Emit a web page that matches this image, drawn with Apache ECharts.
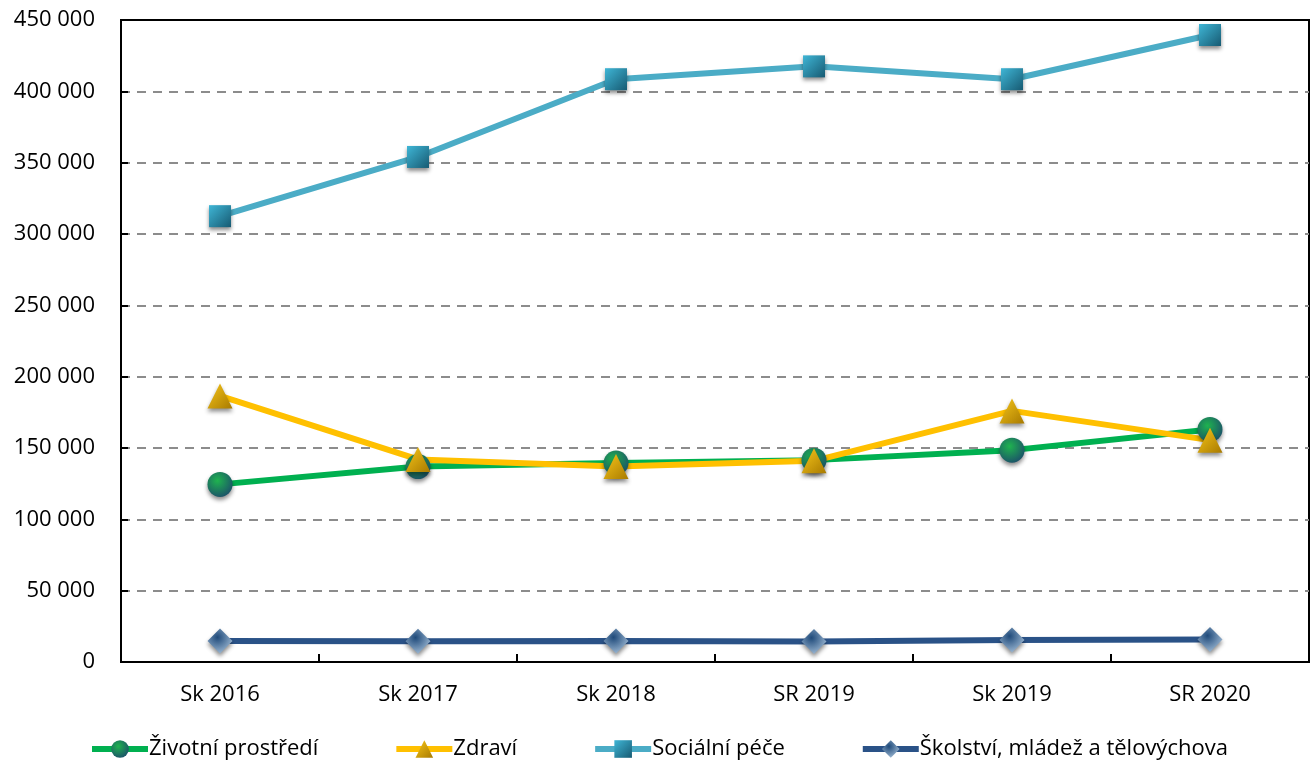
<!DOCTYPE html>
<html>
<head>
<meta charset="utf-8">
<script src="https://cdn.jsdelivr.net/npm/echarts@6/dist/echarts.min.js"></script>
<style>
  html, body { margin: 0; padding: 0; background: #fff; }
  #chart { width: 1312px; height: 767px; }
</style>
</head>
<body>
<div id="chart"></div>
<script>
var categories = ['Sk 2016', 'Sk 2017', 'Sk 2018', 'SR 2019', 'Sk 2019', 'SR 2020'];
var zivotni = [124500, 137000, 139500, 141500, 148500, 163000];
var zdravi = [186500, 142000, 137000, 141000, 176000, 155500];
var socialni = [312500, 354000, 408500, 417500, 408500, 439500];
var skolstvi = [14700, 14500, 14700, 14300, 15500, 15800];

var font = '"Open Sans", "Noto Sans", sans-serif';

function radial(c1, c2) {
  return new echarts.graphic.RadialGradient(0.4, 0.35, 0.75, [
    {offset: 0, color: c1},
    {offset: 1, color: c2}
  ]);
}
function linear(c1, c2) {
  return new echarts.graphic.LinearGradient(0, 0, 1, 1, [
    {offset: 0, color: c1},
    {offset: 1, color: c2}
  ]);
}

var shadow = {
  shadowBlur: 4,
  shadowColor: 'rgba(0,0,0,0.45)',
  shadowOffsetY: 3
};

function makeSeries(name, data, lineColor, symbol, size, markerColor) {
  return {
    name: name,
    type: 'line',
    data: data,
    symbol: symbol,
    symbolSize: size,
    showAllSymbol: true,
    lineStyle: {color: lineColor, width: 6},
    itemStyle: Object.assign({color: markerColor}, shadow),
    emphasis: {disabled: true}
  };
}

var chart = echarts.init(document.getElementById('chart'), null, {renderer: 'canvas'});

chart.setOption({
  animation: false,
  grid: {
    left: 121,
    right: 3,
    top: 20,
    bottom: 105,
    show: true,
    borderColor: '#000',
    borderWidth: 2
  },
  legend: {
    top: 733,
    left: 84,
    itemGap: 75,
    itemWidth: 56,
    itemHeight: 22,
    lineStyle: {width: 6},
    textStyle: {fontFamily: font, fontSize: 22, color: '#000', padding: [0, 0, 0, -4]},
    data: ['Životní prostředí', 'Zdraví', 'Sociální péče', 'Školství, mládež a tělovýchova']
  },
  xAxis: [{
    type: 'category',
    data: categories,
    boundaryGap: true,
    axisLine: {lineStyle: {color: '#000', width: 2}},
    axisTick: {show: true, inside: true, length: 8, lineStyle: {color: '#000', width: 2}},
    axisLabel: {fontFamily: font, fontSize: 22, color: '#000', margin: 22}
  }, {
    type: 'category',
    position: 'top',
    data: categories,
    axisLine: {show: true, lineStyle: {color: '#000', width: 2}},
    axisTick: {show: false},
    axisLabel: {show: false}
  }],
  yAxis: {
    type: 'value',
    min: 0,
    max: 450000,
    interval: 50000,
    axisLine: {show: true, lineStyle: {color: '#000', width: 2}},
    axisTick: {show: true, inside: true, length: 7, lineStyle: {color: '#000', width: 2}},
    axisLabel: {
      fontFamily: font,
      fontSize: 22,
      color: '#000',
      margin: 26,
      formatter: function (v) {
        return String(v).replace(/\B(?=(\d{3})+(?!\d))/g, ' ');
      }
    },
    splitLine: {lineStyle: {color: '#8c8c8c', width: 2, type: [9, 7]}}
  },
  series: [
    makeSeries('Životní prostředí', zivotni, '#00B050', 'circle', 25, radial('#1fb34f', '#1b4a6b')),
    makeSeries('Zdraví', zdravi, '#FFC000', 'triangle', 25, linear('#f7c61a', '#a87a00')),
    makeSeries('Sociální péče', socialni, '#4BACC6', 'rect', 22, linear('#3fb6d6', '#175a72')),
    makeSeries('Školství, mládež a tělovýchova', skolstvi, '#2A5287', 'diamond', 25, radial('#1f4a7a', '#a9c3dc'))
  ]
});
</script>
</body>
</html>
